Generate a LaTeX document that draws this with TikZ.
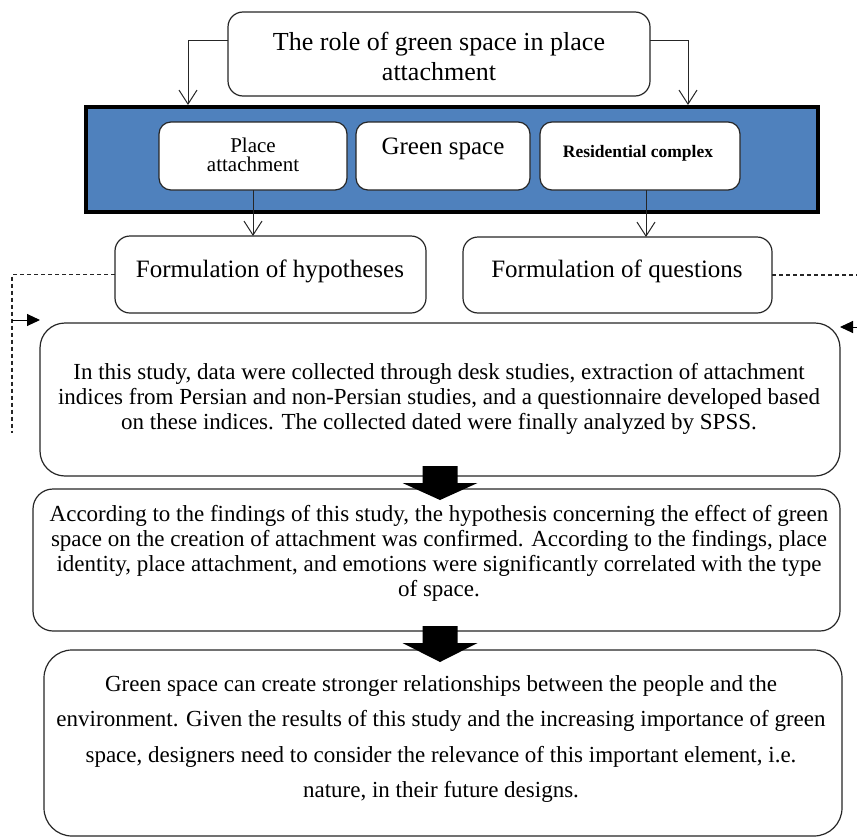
\documentclass[tikz,border=0pt]{standalone}
\usepackage{fontspec}
\setmainfont{Liberation Serif}
\usetikzlibrary{arrows.meta}
\definecolor{wordblue}{RGB}{79,129,189}
\begin{document}
\begin{tikzpicture}[x=1pt,y=-1pt,
  box/.style={draw=black!85, line width=1.2pt, fill=white, inner sep=0pt, outer sep=0pt},
  txt/.style={align=center, inner sep=0pt},
  bodyfont/.style={font=\fontsize{23}{25}\selectfont},
  conn/.style={draw=black!85, line width=1pt, -{Straight Barb[length=14pt,width=18pt,line width=1pt]}},
  dashline/.style={draw=black!85, line width=1.1pt, dash pattern=on 4pt off 3pt},
  tri/.style={draw=black, line width=1pt, -{Triangle[length=13pt,width=12pt]}}
]
\useasboundingbox (0,0) rectangle (857,838);

% boxes
\node[box, rounded corners=15pt, minimum width=422pt, minimum height=84pt] (top) at (439,54) {};
\node[draw=black, line width=4pt, fill=wordblue, inner sep=0pt, minimum width=732pt, minimum height=105pt] (blue) at (452,159.5) {};
\node[box, rounded corners=12pt, minimum width=188pt, minimum height=68pt] (PA) at (253,156) {};
\node[box, rounded corners=12pt, minimum width=174pt, minimum height=68pt] (GS) at (443,156) {};
\node[box, rounded corners=12pt, minimum width=200pt, minimum height=68pt] (RC) at (640,156) {};
\node[box, rounded corners=15pt, minimum width=311pt, minimum height=77pt] (Hy) at (270.5,274.5) {};
\node[box, rounded corners=15pt, minimum width=309pt, minimum height=76pt] (Q) at (617.5,275) {};
\node[box, rounded corners=25pt, minimum width=800pt, minimum height=153pt] (B1) at (440,399.5) {};
\node[box, rounded corners=20pt, minimum width=807pt, minimum height=142pt] (B2) at (436.5,560) {};
\node[box, rounded corners=28pt, minimum width=798pt, minimum height=186pt] (B3) at (443,743) {};

% texts
\node[txt, font=\fontsize{26}{30}\selectfont] (topT) at (439,56) {The role of green space in place\\attachment};
\node[txt, font=\fontsize{21}{19.5}\selectfont] (PAt) at (253,155) {Place\\attachment};
\node[txt, font=\fontsize{25}{28}\selectfont] (GSt) at (443,149) {Green space};
\node[txt, font=\bfseries\fontsize{17.5}{20}\selectfont] (RCt) at (638,153) {Residential complex};
\node[txt, font=\fontsize{25}{28}\selectfont] (Hyt) at (270,271) {Formulation of hypotheses};
\node[txt, font=\fontsize{25}{28}\selectfont] (Qt) at (617,271) {Formulation of questions};
\node[txt, bodyfont] (B1t) at (439,399) {In this study, data were collected through desk studies, extraction of attachment\\indices from Persian and non-Persian studies, and a questionnaire developed based\\on these indices. The collected dated were finally analyzed by SPSS.};
\node[txt, bodyfont] (B2t) at (439,553) {According to the findings of this study, the hypothesis concerning the effect of green\\space on the creation of attachment was confirmed. According to the findings, place\\identity, place attachment, and emotions were significantly correlated with the type\\of space.};
\node[txt, font=\fontsize{23}{35.5}\selectfont] (B3t) at (441,739) {Green space can create stronger relationships between the people and the\\environment. Given the results of this study and the increasing importance of green\\space, designers need to consider the relevance of this important element, i.e.\\nature, in their future designs.};

% connectors
\draw[conn] ([yshift=14pt]top.west) -| (blue.north -| 188,0);
\draw[conn] ([yshift=14pt]top.east) -| (blue.north -| 688,0);
\draw[conn] (PA.south) -- (PA.south |- Hy.north);
\draw[conn] ([xshift=6pt]RC.south) -- ([xshift=6pt]RC.south |- Q.north);

\coordinate (dL) at (12,433);
\coordinate (dR) at (857,275);
\coordinate (aL) at (12,320);
\coordinate (aR) at (858,327);
\draw[dashline] (Hy.west) -| (dL);
\draw[dashline] (Q.east) -- (dR);
\draw[tri] (aL) -- (B1.west |- aL);
\draw[tri] (aR) -- (B1.east |- aR);

% thick block arrows
\begin{scope}[shift={(B1.south)}]
  \fill[black] (-17.5,-10) -- (17.5,-10) -- (17.5,7) -- (37.5,7) -- (0,24) -- (-37.5,7) -- (-17.5,7) -- cycle;
\end{scope}
\begin{scope}[shift={(B2.south -| B1.south)}]
  \fill[black] (-17.5,-5) -- (17.5,-5) -- (17.5,12) -- (37.5,12) -- (0,31) -- (-37.5,12) -- (-17.5,12) -- cycle;
\end{scope}
\end{tikzpicture}
\end{document}
